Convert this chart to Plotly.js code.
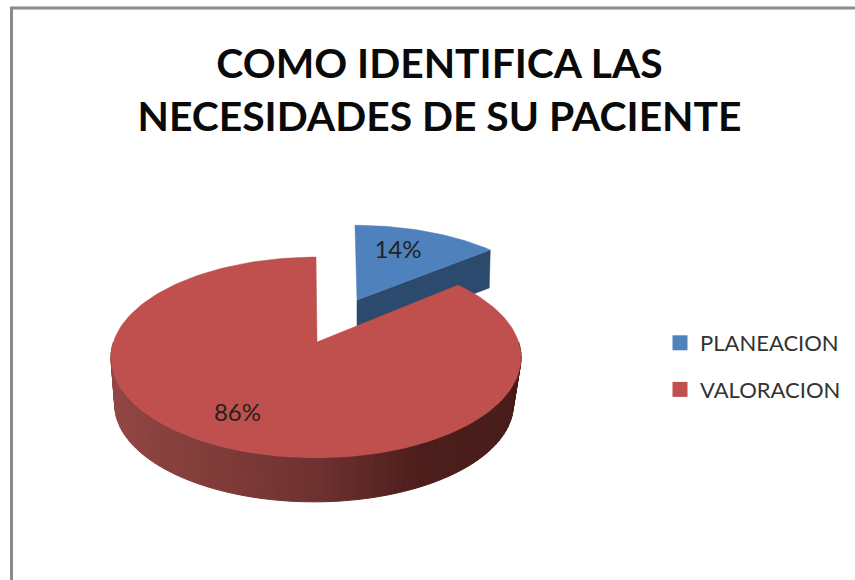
<!DOCTYPE html>
<html>
<head>
<meta charset="utf-8">
<script src="https://cdn.plot.ly/plotly-3.0.1.min.js"></script>
<style>html,body{margin:0;padding:0;background:#fff}</style>
</head>
<body>
<div id="chart" style="width:855px;height:580px"></div>
<script>
const categories = ['PLANEACION', 'VALORACION'];
const values = [14, 86];
const chartTitle = 'COMO IDENTIFICA LAS<br>NECESIDADES DE SU PACIENTE';

const blue = '#4f81bd', blueWall = '#2c4a6d', red = '#bf504d';
const wallStops = [[110, [146, 70, 67]], [320, [110, 49, 47]], [420, [76, 30, 28]], [525, [72, 28, 26]]];

// perspective projection of the unit disc onto the page
const K = 0.154, A = 203, B = 98, X0 = 317, Y0 = 342;
function project(theta, f) {
  const u = Math.sin(theta), v = Math.cos(theta), w = 1 + K * v;
  const dy = B * v / w * f.sy;
  return [f.x + f.sx * A * u / w - f.shear * dy, f.y - dy];
}
const total = values.reduce((a, b) => a + b, 0);
const split = values[0] / total * 2 * Math.PI;
const mainF = {x: X0 - 1, y: Y0, sx: 0.998, sy: 1, shear: 0};
const floorF = {x: 314, y: Y0 + 47.5, sx: 0.97, sy: 0.97, shear: 0};
const pullF = {x: 357, y: 300, sx: 0.945, sy: 0.88, shear: 0.027};

function arc(a0, a1, f, n) {
  const pts = [];
  for (let i = 0; i <= n; i++) pts.push(project(a0 + (a1 - a0) * i / n, f));
  return pts;
}
function poly(pts, color, lw) {
  return {type: 'scatter', mode: 'lines', x: pts.map(p => p[0]), y: pts.map(p => p[1]),
    fill: 'toself', fillcolor: color, line: {color: color, width: lw || 0},
    showlegend: false, hoverinfo: 'skip'};
}
function wallColor(x) {
  for (let i = 1; i < wallStops.length; i++) {
    if (x <= wallStops[i][0]) {
      const [x0, c0] = wallStops[i - 1], [x1, c1] = wallStops[i], t = Math.max(0, (x - x0) / (x1 - x0));
      return 'rgb(' + c0.map((c, j) => Math.round(c + (c1[j] - c) * t)).join(',') + ')';
    }
  }
  return 'rgb(' + wallStops[wallStops.length - 1][1].join(',') + ')';
}

const traces = [];
// pulled slice: inner wall, then top
const corner = project(split, pullF), apexB = [pullF.x, pullF.y];
traces.push(poly([apexB, corner, [corner[0] - 1, corner[1] + 38], [apexB[0], apexB[1] + 38], apexB], blueWall, 0.5));
traces.push(poly([apexB].concat(arc(0, split, pullF, 40), [apexB]), blue, 0.5));
// main slice: front wall, one thin strip per step, then top
const STEPS = 90, a0 = Math.PI / 2, a1 = 3 * Math.PI / 2;
for (let i = 0; i < STEPS; i++) {
  const s = a0 + (a1 - a0) * i / STEPS, e = a0 + (a1 - a0) * (i + 1) / STEPS;
  const p = project(s, mainF), q = project(e, mainF), pf = project(s, floorF), qf = project(e, floorF);
  traces.push(poly([p, q, qf, pf, p], wallColor((p[0] + q[0]) / 2), 1));
}
const apexM = [X0, Y0];
traces.push(poly([apexM].concat(arc(split, 2 * Math.PI, mainF, 180), [apexM]), red, 0.5));

// value labels
traces.push({type: 'scatter', mode: 'text', x: [398, 237.5], y: [252, 415],
  text: values.map(v => v + '%'), textposition: 'middle center',
  textfont: {family: 'Lato, sans-serif', size: 24, color: '#222'},
  showlegend: false, hoverinfo: 'skip'});
// legend
categories.forEach((c, i) => traces.push({type: 'scatter', mode: 'markers', x: [null], y: [null], name: c,
  legendgroup: c, marker: {symbol: 'square', size: 15, color: [blue, red][i]}}));

const layout = {
  width: 855, height: 580, margin: {l: 0, r: 0, t: 0, b: 0},
  paper_bgcolor: '#fff', plot_bgcolor: '#fff',
  title: {text: chartTitle, x: 439.5 / 855, xanchor: 'center', y: 1 - 78 / 580, yanchor: 'top',
    font: {family: 'Lato, sans-serif', size: 40.8, color: '#0a0a0a', weight: 700}},
  xaxis: {range: [0, 855], visible: false, fixedrange: true},
  yaxis: {range: [580, 0], visible: false, fixedrange: true},
  showlegend: true,
  legend: {x: 660 / 855, y: 1 - 322 / 580, xanchor: 'left', yanchor: 'top', tracegroupgap: 15,
    bgcolor: 'rgba(0,0,0,0)', font: {family: 'Lato, sans-serif', size: 22, color: '#333'}},
  shapes: [
    {type: 'line', xref: 'paper', yref: 'paper', x0: 11.5 / 855, x1: 11.5 / 855, y0: 0, y1: 1 - 8 / 580, line: {color: '#8a8a8a', width: 3}},
    {type: 'line', xref: 'paper', yref: 'paper', x0: 10 / 855, x1: 1, y0: 1 - 8 / 580, y1: 1 - 8 / 580, line: {color: '#8a8a8a', width: 3}}
  ]
};
Plotly.newPlot('chart', traces, layout, {displayModeBar: false, staticPlot: true});
</script>
</body>
</html>
